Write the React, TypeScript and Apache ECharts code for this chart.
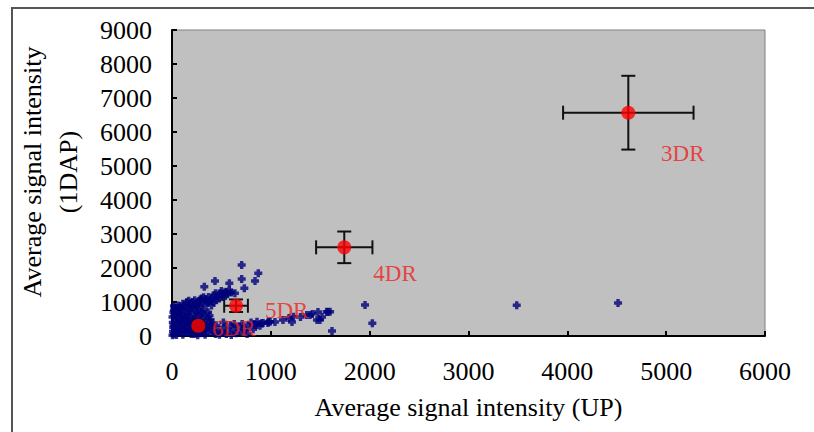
import React, { useEffect, useRef } from "react";
import * as echarts from "echarts";

// Group means (red markers) with error bars
const groupNames = ["3DR", "4DR", "5DR", "6DR"];
const groupUP = [4617, 1743, 648, 266];
const groupDAP = [6568, 2608, 890, 303];
const groupUPErr = [660, 285, 120, 50];
const groupDAPErr = [1085, 465, 185, 80];
// Label anchor points (data units, left edge of label)
const labelUP = [4948, 2037, 941, 405];
const labelDAP = [5382, 1824, 750, 235];

// Individual spots (UP, 1DAP)
const clusterPoints: number[][] = [
  [20, 50], [35, 180], [15, 320], [40, 460], [25, 600], [50, 720], [30, 820], [60, 90],
  [75, 260], [55, 390], [85, 530], [70, 680], [95, 780], [110, 40], [120, 200], [100, 340],
  [130, 470], [115, 610], [140, 740], [150, 120], [165, 290], [145, 410], [175, 560], [160, 660],
  [190, 820], [195, 60], [210, 230], [185, 370], [220, 500], [205, 640], [235, 760], [240, 150],
  [255, 310], [230, 430], [265, 580], [250, 700], [280, 880], [290, 80], [300, 250], [275, 390],
  [310, 520], [295, 650], [320, 780], [10, 130], [12, 250], [8, 400], [14, 700], [45, 30],
  [90, 150], [130, 330], [170, 450], [200, 110], [260, 20], [330, 170], [345, 330], [360, 460],
  [380, 600], [335, 40], [370, 90], [395, 210], [410, 380],
  [5, 20], [5, 560], [28, 260], [62, 170], [48, 560], [80, 400], [105, 460], [92, 650],
  [125, 120], [138, 560], [155, 220], [180, 130], [170, 760], [215, 360], [225, 60], [245, 520],
  [270, 180], [285, 460], [305, 120], [315, 360], [350, 240], [20, 760], [65, 820], [120, 880],
  [180, 930], [245, 860], [300, 720], [340, 600], [365, 700], [390, 480], [420, 120], [405, 300],
];
const bandPoints: number[][] = [
  [60, 900], [110, 950], [150, 1000], [190, 960], [230, 1050], [270, 1020], [300, 1100],
  [340, 1080], [370, 1150], [400, 1120], [430, 1200], [460, 1180], [490, 1250], [520, 1230],
  [550, 1300], [580, 1340], [600, 1280], [350, 950], [420, 1000], [250, 920], [480, 1100],
  [200, 880], [540, 1180], [400, 900], [130, 870], [310, 980], [20, 880], [85, 840],
  [170, 1040], [210, 1000], [285, 1070], [320, 1140], [390, 1030], [450, 1050], [510, 1150],
  [560, 1230], [440, 1260], [360, 1000], [260, 980], [500, 1320],
];
const trailPoints: number[][] = [
  [440, 60], [470, 180], [500, 100], [530, 250], [560, 150], [590, 320], [620, 200], [650, 80],
  [680, 280], [710, 350], [740, 180], [770, 300], [800, 400], [830, 330], [860, 420], [890, 300],
  [450, 300], [520, 400], [600, 30], [700, 120], [921, 382], [971, 382], [1042, 412], [1123, 470],
  [1184, 529], [1214, 412], [1396, 618], [1477, 706], [1518, 559], [1578, 706], [1467, 470],
  [1619, 147], [857, 324], [992, 420], [1228, 568], [1363, 618], [1565, 715], [1497, 470],
  [1599, 715], [907, 373], [975, 420], [1300, 560], [1420, 650],
  [480, 40], [550, 60], [630, 350], [760, 60], [820, 200],
];
const outlierPoints: number[][] = [
  [705, 2088], [873, 1843], [840, 1618], [705, 1676], [435, 1618], [327, 1450], [732, 1403],
  [637, 1256], [536, 1285], [580, 1550], [1953, 912], [2027, 373], [3488, 903], [4513, 970],
];

const FONT = '"Liberation Serif", "Times New Roman", serif';
const PLUS = "path://M2,0 H5 V2 H7 V5 H5 V7 H2 V5 H0 V2 H2 Z";

export default function App() {
  const ref = useRef<HTMLDivElement>(null);
  useEffect(() => {
    if (!ref.current) return;
    const chart = echarts.init(ref.current, null, { renderer: "svg" });
    const spots = [...clusterPoints, ...bandPoints, ...trailPoints, ...outlierPoints];
    const errData = groupNames.map((_, i) => [groupUP[i], groupDAP[i], groupUPErr[i], groupDAPErr[i]]);
    const meanData = groupNames.map((_, i) => [groupUP[i], groupDAP[i]]);
    const labelData = groupNames.map((n, i) => [labelUP[i], labelDAP[i], n]);
    const plain = (v: number) => String(v);
    chart.setOption({
      animation: false,
      backgroundColor: "#ffffff",
      textStyle: { fontFamily: FONT },
      graphic: [
        {
          type: "rect",
          z: -10,
          shape: { x: 12, y: 8, width: 900, height: 500 },
          style: { fill: "none", stroke: "#555555", lineWidth: 2 },
        },
        {
          type: "text",
          x: 50,
          y: 172,
          rotation: Math.PI / 2,
          style: {
            text: "Average signal intensity\n(1DAP)",
            fill: "#000",
            font: `26px ${FONT}`,
            align: "center",
            verticalAlign: "middle",
            lineHeight: 36,
          },
        },
      ],
      grid: {
        left: 172,
        top: 30,
        right: 49,
        bottom: 96,
        show: true,
        backgroundColor: "#C0C0C0",
        borderColor: "#808080",
        borderWidth: 1,
      },
      xAxis: {
        type: "value",
        min: 0,
        max: 6000,
        interval: 1000,
        name: "Average signal intensity (UP)",
        nameLocation: "middle",
        nameGap: 58,
        nameTextStyle: { fontFamily: FONT, fontSize: 26, color: "#000" },
        axisLine: { show: true, lineStyle: { color: "#000", width: 2 } },
        axisTick: { show: true, inside: true, length: 5, lineStyle: { color: "#000", width: 2 } },
        axisLabel: { margin: 22, fontFamily: FONT, fontSize: 26, color: "#000", formatter: plain },
        splitLine: { show: false },
      },
      yAxis: {
        type: "value",
        min: 0,
        max: 9000,
        interval: 1000,
        axisLine: { show: true, lineStyle: { color: "#000", width: 2 } },
        axisTick: { show: true, inside: true, length: 5, lineStyle: { color: "#000", width: 2 } },
        axisLabel: { margin: 20, fontFamily: FONT, fontSize: 26, color: "#000", formatter: plain },
        splitLine: { show: false },
      },
      series: [
        {
          type: "scatter",
          data: spots,
          symbol: PLUS,
          symbolSize: 8,
          itemStyle: { color: "#00007A" },
          z: 2,
        },
        {
          type: "custom",
          data: errData,
          encode: { x: 0, y: 1 },
          z: 3,
          renderItem: (params: any, api: any) => {
            const x = api.value(0);
            const y = api.value(1);
            const ex = api.value(2);
            const ey = api.value(3);
            const c = api.coord([x, y]);
            const l = api.coord([x - ex, y]);
            const r = api.coord([x + ex, y]);
            const t = api.coord([x, y + ey]);
            const b = api.coord([x, y - ey]);
            const cap = 7;
            const style = { stroke: "#111111", lineWidth: 2 };
            return {
              type: "group",
              children: [
                { type: "line", shape: { x1: l[0], y1: c[1], x2: r[0], y2: c[1] }, style },
                { type: "line", shape: { x1: l[0], y1: c[1] - cap, x2: l[0], y2: c[1] + cap }, style },
                { type: "line", shape: { x1: r[0], y1: c[1] - cap, x2: r[0], y2: c[1] + cap }, style },
                { type: "line", shape: { x1: c[0], y1: t[1], x2: c[0], y2: b[1] }, style },
                { type: "line", shape: { x1: c[0] - cap, y1: t[1], x2: c[0] + cap, y2: t[1] }, style },
                { type: "line", shape: { x1: c[0] - cap, y1: b[1], x2: c[0] + cap, y2: b[1] }, style },
              ],
            };
          },
        },
        {
          type: "scatter",
          data: meanData,
          symbol: "circle",
          symbolSize: 14,
          itemStyle: { color: "#FF0000" },
          z: 4,
        },
        {
          type: "scatter",
          data: labelData,
          symbolSize: 0,
          z: 5,
          label: {
            show: true,
            position: "right",
            distance: 0,
            formatter: (p: any) => p.value[2],
            fontFamily: FONT,
            fontSize: 23,
            color: "#EE2222",
          },
        },
      ],
    });
    return () => chart.dispose();
  }, []);
  return (
    <div
      ref={ref}
      style={{ position: "fixed", left: 0, top: 0, width: 814, height: 432 }}
    />
  );
}
